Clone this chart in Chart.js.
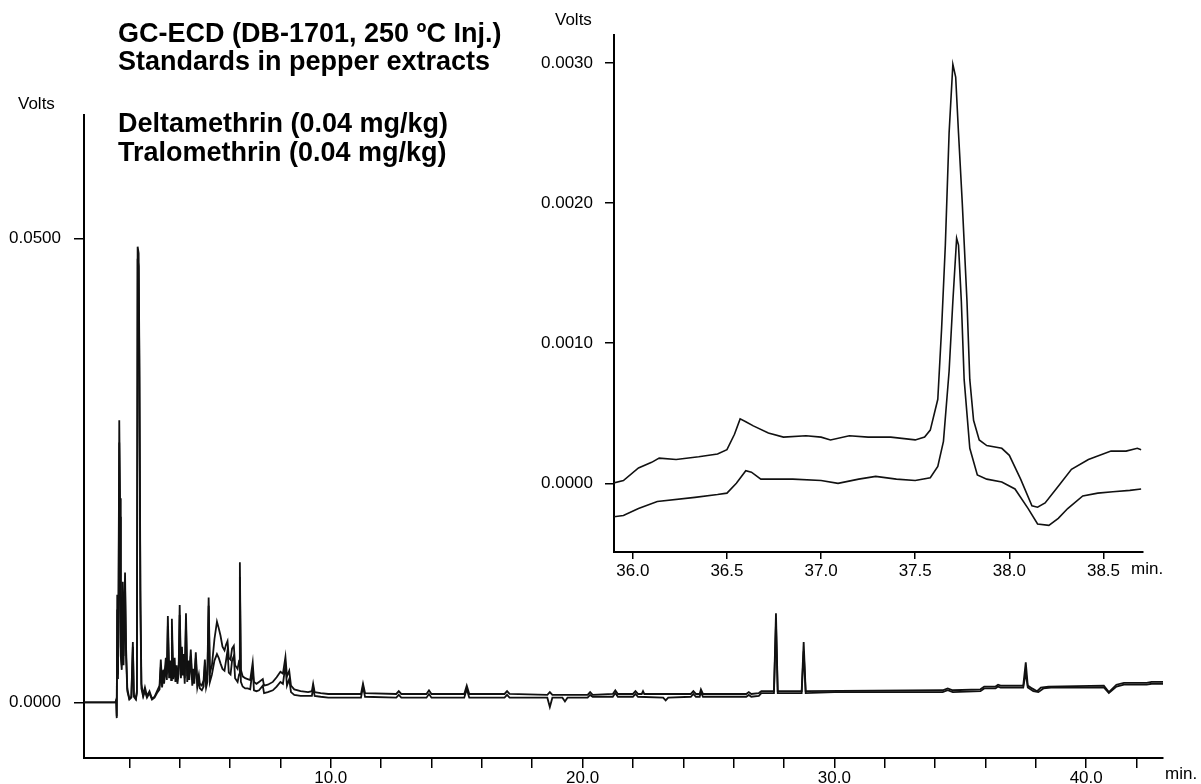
<!DOCTYPE html>
<html>
<head>
<meta charset="utf-8">
<script src="https://cdn.jsdelivr.net/npm/chart.js@4.4.1/dist/chart.umd.min.js"></script>
<style>
  html, body { margin: 0; padding: 0; background: #fff; }
  #wrap { position: relative; width: 1201px; height: 784px; font-family: "Liberation Sans", Arial, sans-serif; color: #000; }
  .box { position: absolute; left: 0; top: 0; width: 1201px; height: 784px; }
  .title { position: absolute; left: 118px; font-weight: bold; font-size: 27px; line-height: 30px; white-space: nowrap; }
  .lbl { position: absolute; font-size: 17px; line-height: 20px; white-space: nowrap; }
</style>
</head>
<body>
<div id="wrap">
  <div class="box"><canvas id="mainChart"></canvas></div>
  <div class="box"><canvas id="insetChart"></canvas></div>
  <div class="title" style="top:18px">GC-ECD (DB-1701, 250 ºC Inj.)</div>
  <div class="title" style="top:46px">Standards in pepper extracts</div>
  <div class="title" style="top:108px">Deltamethrin (0.04 mg/kg)</div>
  <div class="title" style="top:137px">Tralomethrin (0.04 mg/kg)</div>
  <div class="lbl" style="left:18px;top:94px">Volts</div>
  <div class="lbl" style="left:555px;top:10px">Volts</div>
  <div class="lbl" style="left:1165px;top:764px">min.</div>
  <div class="lbl" style="left:1131px;top:559px">min.</div>
</div>
<script>
// full run, retention time (min) vs detector signal (V)
const mainUpper = [
  [0.2,0],[1.45,0],[1.48,0.0003],[1.50,-0.0017],[1.52,0.0116],[1.55,0.003],[1.58,0.012],[1.60,0.0304],[1.63,0.022],[1.66,0.006],
  [1.70,0.004],[1.74,0.013],[1.77,0.005],[1.83,0.014],[1.87,0.006],[1.92,0.0015],[2.0,0.0004],[2.08,0.0006],[2.14,0.0065],[2.18,0.0008],
  [2.26,0.0004],[2.30,0.0012],[2.33,0.0491],[2.37,0.0484],[2.40,0.037],[2.44,0.012],[2.48,0.002],[2.55,0.0008],[2.62,0.0016],[2.7,0.0007],
  [2.8,0.0012],[2.9,0.0004],[3.0,0.0006],[3.1,0.0012],[3.2,0.0018],[3.25,0.0046],[3.3,0.002],[3.35,0.0035],[3.38,0.0025],[3.45,0.0048],
  [3.49,0.003],[3.53,0.0093],[3.58,0.0032],[3.63,0.0045],[3.66,0.003],[3.69,0.009],[3.74,0.003],[3.8,0.0048],[3.83,0.0028],[3.88,0.004],
  [3.91,0.0026],[3.96,0.0038],[4.0,0.0105],[4.05,0.0032],[4.09,0.006],[4.12,0.0035],[4.16,0.0052],[4.2,0.0026],[4.25,0.0096],[4.3,0.0028],
  [4.35,0.0045],[4.38,0.003],[4.44,0.0057],[4.5,0.0024],[4.55,0.0036],[4.58,0.0025],[4.64,0.0054],[4.7,0.0022],[4.76,0.003],[4.8,0.002],
  [4.88,0.0018],[4.95,0.0024],[5.0,0.0046],[5.05,0.0022],[5.1,0.003],[5.15,0.0113],[5.2,0.0032],[5.28,0.004],[5.38,0.0068],[5.48,0.0087],
  [5.55,0.008],[5.62,0.0072],[5.7,0.006],[5.78,0.0056],[5.84,0.0062],[5.9,0.0066],[5.95,0.0048],[6.02,0.0046],[6.08,0.0058],[6.15,0.0061],
  [6.2,0.004],[6.3,0.0036],[6.36,0.0045],[6.39,0.0151],[6.43,0.0035],[6.5,0.0028],[6.6,0.0026],[6.7,0.0025],[6.8,0.0024],[6.9,0.0043],
  [6.95,0.0022],[7.05,0.002],[7.15,0.0022],[7.3,0.0025],[7.35,0.0018],[7.5,0.0019],[7.7,0.0022],[7.85,0.0027],[8.0,0.0033],[8.1,0.0031],
  [8.2,0.0049],[8.26,0.0028],[8.35,0.0034],[8.42,0.0018],[8.55,0.0014],[8.8,0.0012],[9.1,0.0011],[9.25,0.0012],[9.3,0.002],[9.36,0.0011],
  [9.6,0.001],[9.9,0.0009],[11.2,0.0009],[11.28,0.002],[11.36,0.001],[12.6,0.0009],[12.7,0.0012],[12.8,0.0009],[13.8,0.0009],[13.9,0.0013],
  [14.0,0.0009],[15.3,0.0009],[15.4,0.0018],[15.5,0.0009],[16.9,0.0009],[17.0,0.0012],[17.1,0.0009],[18.6,0.0008],[18.7,0.0011],[18.8,0.0008],
  [20.2,0.0008],[20.3,0.0011],[20.4,0.0008],[21.2,0.0009],[21.3,0.0013],[21.4,0.0009],[22.0,0.0009],[22.1,0.0012],[22.2,0.0009],[22.35,0.0009],
  [22.4,0.0012],[22.45,0.0009],[24.3,0.0009],[24.4,0.0012],[24.5,0.0009],[24.65,0.0009],[24.7,0.0014],[24.78,0.0009],[26.5,0.0009],[26.6,0.0011],
  [26.7,0.0009],[27.0,0.001],[27.1,0.0012],[27.6,0.0012],[27.68,0.0096],[27.75,0.0012],[28.7,0.0012],[28.78,0.0065],[28.86,0.0012],[34.3,0.0013],
  [34.5,0.0015],[34.7,0.0013],[35.8,0.0014],[35.95,0.0017],[36.4,0.0017],[36.5,0.0019],[36.6,0.0018],[37.5,0.0018],[37.6,0.0043],[37.68,0.0018],
  [37.85,0.0015],[38.05,0.0012],[38.2,0.0016],[38.5,0.0017],[40.7,0.0018],[40.9,0.0011],[41.2,0.0019],[41.5,0.0021],[42.4,0.0021],[42.6,0.0022],
  [43.05,0.0022]
];
const mainLower = [
  [0.2,0],[1.45,0],[1.48,0.0002],[1.50,-0.0015],[1.52,0.010],[1.55,0.0025],[1.60,0.028],[1.63,0.02],[1.66,0.005],[1.70,0.0035],
  [1.74,0.011],[1.77,0.004],[1.83,0.0125],[1.87,0.005],[1.92,0.0012],[2.0,0.0003],[2.08,0.0005],[2.14,0.006],[2.18,0.0006],[2.26,0.0003],
  [2.30,0.001],[2.33,0.0478],[2.37,0.047],[2.40,0.035],[2.44,0.01],[2.48,0.0015],[2.55,0.0006],[2.62,0.0012],[2.7,0.0005],[2.8,0.001],
  [2.9,0.0003],[3.0,0.0005],[3.1,0.001],[3.2,0.0014],[3.25,0.0038],[3.3,0.0016],[3.35,0.0028],[3.38,0.002],[3.45,0.004],[3.49,0.0024],
  [3.53,0.0082],[3.58,0.0026],[3.63,0.0038],[3.66,0.0024],[3.69,0.0078],[3.74,0.0025],[3.8,0.004],[3.83,0.0022],[3.88,0.0034],[3.91,0.002],
  [3.96,0.0031],[4.0,0.0094],[4.05,0.0026],[4.09,0.0052],[4.12,0.0029],[4.16,0.0044],[4.2,0.002],[4.25,0.0085],[4.3,0.0022],[4.35,0.0038],
  [4.38,0.0024],[4.44,0.005],[4.5,0.0018],[4.55,0.003],[4.58,0.002],[4.64,0.0048],[4.7,0.0016],[4.76,0.0024],[4.8,0.0015],[4.88,0.0013],
  [4.95,0.0017],[5.0,0.004],[5.05,0.0016],[5.1,0.0022],[5.15,0.0104],[5.2,0.0022],[5.28,0.003],[5.38,0.0045],[5.48,0.0052],[5.55,0.0048],
  [5.62,0.0042],[5.7,0.0036],[5.78,0.0034],[5.84,0.0045],[5.9,0.0056],[5.95,0.0032],[6.02,0.003],[6.08,0.0045],[6.15,0.005],[6.2,0.0026],
  [6.3,0.0022],[6.36,0.003],[6.39,0.0135],[6.43,0.0022],[6.5,0.0017],[6.6,0.0015],[6.7,0.0015],[6.8,0.0014],[6.9,0.0036],[6.95,0.0013],
  [7.05,0.0012],[7.15,0.0013],[7.3,0.0018],[7.35,0.001],[7.5,0.0011],[7.7,0.0013],[7.85,0.0017],[8.0,0.0022],[8.1,0.002],[8.2,0.004],
  [8.26,0.0018],[8.35,0.0025],[8.42,0.0011],[8.55,0.0008],[8.8,0.0007],[9.1,0.0007],[9.25,0.0007],[9.3,0.0016],[9.36,0.0007],[9.6,0.0006],
  [9.9,0.0005],[11.2,0.0005],[11.28,0.0017],[11.36,0.0006],[12.6,0.0005],[12.7,0.0008],[12.8,0.0005],[13.8,0.0005],[13.9,0.0009],[14.0,0.0005],
  [15.3,0.0005],[15.4,0.0014],[15.5,0.0005],[16.9,0.0005],[17.0,0.0008],[17.1,0.0005],[18.6,0.0005],[18.7,-0.0005],[18.8,0.0005],[19.2,0.0005],
  [19.3,0.0001],[19.4,0.0005],[20.2,0.0005],[20.3,0.0008],[20.4,0.0006],[21.2,0.0006],[21.3,0.001],[21.4,0.0006],[22.0,0.0006],[22.1,0.0009],
  [22.2,0.0006],[23.2,0.0005],[23.3,0.0002],[23.4,0.0005],[24.3,0.0006],[24.4,0.0009],[24.5,0.0006],[24.65,0.0006],[24.7,0.0011],[24.78,0.0006],
  [26.5,0.0006],[26.6,0.0008],[26.7,0.0006],[27.0,0.0007],[27.1,0.001],[27.6,0.001],[27.68,0.0085],[27.75,0.001],[28.7,0.001],[28.78,0.0055],
  [28.86,0.001],[30.0,0.0011],[34.3,0.0011],[34.5,0.0013],[34.7,0.0011],[35.8,0.0012],[35.95,0.0015],[36.4,0.0015],[36.5,0.0017],[36.6,0.0016],
  [37.5,0.0016],[37.6,0.0032],[37.68,0.0016],[37.9,0.0012],[38.1,0.0011],[38.3,0.0015],[38.6,0.0016],[40.7,0.0016],[40.9,0.001],[41.2,0.0017],
  [41.5,0.0019],[42.4,0.0019],[42.6,0.002],[43.05,0.002]
];

// inset: zoom on the deltamethrin / tralomethrin peak
const insetUpper = [
  [35.89,0.0],[35.95,0.00002],[36.03,0.00011],[36.1,0.00015],[36.14,0.00018],[36.23,0.00017],[36.35,0.00019],[36.45,0.00021],[36.5,0.00024],[36.54,0.00035],
  [36.57,0.00046],[36.6,0.00044],[36.64,0.00041],[36.72,0.00036],[36.8,0.00033],[36.92,0.00034],[37.0,0.00033],[37.05,0.00031],[37.15,0.00034],[37.25,0.00033],
  [37.37,0.00033],[37.5,0.00031],[37.55,0.00033],[37.58,0.00038],[37.62,0.0006],[37.64,0.0011],[37.66,0.0017],[37.68,0.0025],[37.70,0.00299],[37.715,0.0029],
  [37.73,0.0025],[37.75,0.002],[37.775,0.0013],[37.79,0.00074],[37.81,0.00045],[37.84,0.00031],[37.88,0.00027],[37.96,0.00025],[38.0,0.0002],[38.06,0.00003],
  [38.12,-0.00016],[38.15,-0.00017],[38.19,-0.00014],[38.26,-0.00002],[38.33,0.0001],[38.42,0.00017],[38.54,0.00023],[38.62,0.00023],[38.68,0.00025],[38.70,0.00024]
];
const insetLower = [
  [35.89,-0.00024],[35.95,-0.00023],[36.03,-0.00018],[36.13,-0.00013],[36.33,-0.0001],[36.45,-0.00008],[36.5,-0.00007],[36.55,0.0],[36.6,0.00009],[36.63,0.00008],
  [36.68,0.00003],[36.85,0.00003],[37.0,0.00002],[37.09,0.0],[37.2,0.00003],[37.29,0.00005],[37.4,0.00003],[37.5,0.00002],[37.58,0.00004],[37.62,0.00012],
  [37.65,0.0003],[37.68,0.0008],[37.70,0.0013],[37.72,0.00175],[37.73,0.0017],[37.745,0.0013],[37.76,0.00074],[37.79,0.00025],[37.83,0.00006],[37.88,0.00003],
  [37.96,0.00001],[38.03,-0.00004],[38.1,-0.00018],[38.15,-0.00029],[38.21,-0.0003],[38.26,-0.00025],[38.31,-0.00018],[38.39,-0.00009],[38.47,-0.00007],[38.55,-0.00006],
  [38.64,-0.00005],[38.70,-0.00004]
];

const mainXTicks = [2, 4, 6, 8, 10, 12, 14, 16, 18, 20, 22, 24, 26, 28, 30, 32, 34, 36, 38, 40, 42];
const mainXLabels = [10, 20, 30, 40];
const mainYTicks = [0, 0.05];
const insetXTicks = [36.0, 36.5, 37.0, 37.5, 38.0, 38.5];
const insetYTicks = [0, 0.001, 0.002, 0.003];

const toPoints = arr => arr.map(p => ({ x: p[0], y: p[1] }));
const tickFont = { family: 'Liberation Sans', size: 17 };

function trace(data, width) {
    return {
        data: toPoints(data),
        borderColor: '#111',
        borderWidth: width,
        pointRadius: 0,
        tension: 0,
        fill: false
    };
}

function axisOpts(extra) {
    return Object.assign({
        type: 'linear',
        border: { display: true, color: '#000', width: 2 }
    }, extra);
}

new Chart(document.getElementById('mainChart'), {
    type: 'line',
    data: { datasets: [trace(mainLower, 1.8), trace(mainUpper, 1.8)] },
    options: {
        responsive: true,
        maintainAspectRatio: false,
        animation: false,
        layout: { padding: { left: 0, top: 115, right: 38, bottom: 0 } },
        plugins: { legend: { display: false }, tooltip: { enabled: false } },
        scales: {
            x: axisOpts({
                min: 0.2, max: 43.05,
                afterBuildTicks: s => { s.ticks = mainXTicks.map(v => ({ value: v })); },
                afterFit: s => { s.height = 26; },
                grid: { drawOnChartArea: false, color: '#000', lineWidth: 1.5, tickLength: 10 },
                ticks: { color: '#000', font: tickFont, autoSkip: false, maxRotation: 0, padding: 0,
                    callback: v => mainXLabels.includes(v) ? v.toFixed(1) : '' }
            }),
            y: axisOpts({
                min: -0.0060, max: 0.0633,
                afterBuildTicks: s => { s.ticks = mainYTicks.map(v => ({ value: v })); },
                afterFit: s => { s.width = 84; },
                grid: { drawOnChartArea: false, color: '#000', lineWidth: 1.5, tickLength: 10 },
                ticks: { color: '#000', font: tickFont, padding: 13, callback: v => v.toFixed(4) }
            })
        }
    }
});

new Chart(document.getElementById('insetChart'), {
    type: 'line',
    data: { datasets: [trace(insetLower, 1.6), trace(insetUpper, 1.6)] },
    options: {
        responsive: true,
        maintainAspectRatio: false,
        animation: false,
        layout: { padding: { left: 0, top: 35, right: 58, bottom: 202 } },
        plugins: { legend: { display: false }, tooltip: { enabled: false } },
        scales: {
            x: axisOpts({
                min: 35.9, max: 38.71,
                afterBuildTicks: s => { s.ticks = insetXTicks.map(v => ({ value: v })); },
                afterFit: s => { s.height = 30; },
                grid: { drawOnChartArea: false, color: '#000', lineWidth: 1.5, tickLength: 7 },
                ticks: { color: '#000', font: tickFont, autoSkip: false, maxRotation: 0, padding: 2,
                    callback: v => v.toFixed(1) }
            }),
            y: axisOpts({
                min: -0.00049, max: 0.0032,
                afterBuildTicks: s => { s.ticks = insetYTicks.map(v => ({ value: v })); },
                afterFit: s => { s.width = 614; },
                grid: { drawOnChartArea: false, color: '#000', lineWidth: 1.5, tickLength: 9 },
                ticks: { color: '#000', font: tickFont, padding: 12, callback: v => v.toFixed(4) }
            })
        }
    }
});
</script>
</body>
</html>
